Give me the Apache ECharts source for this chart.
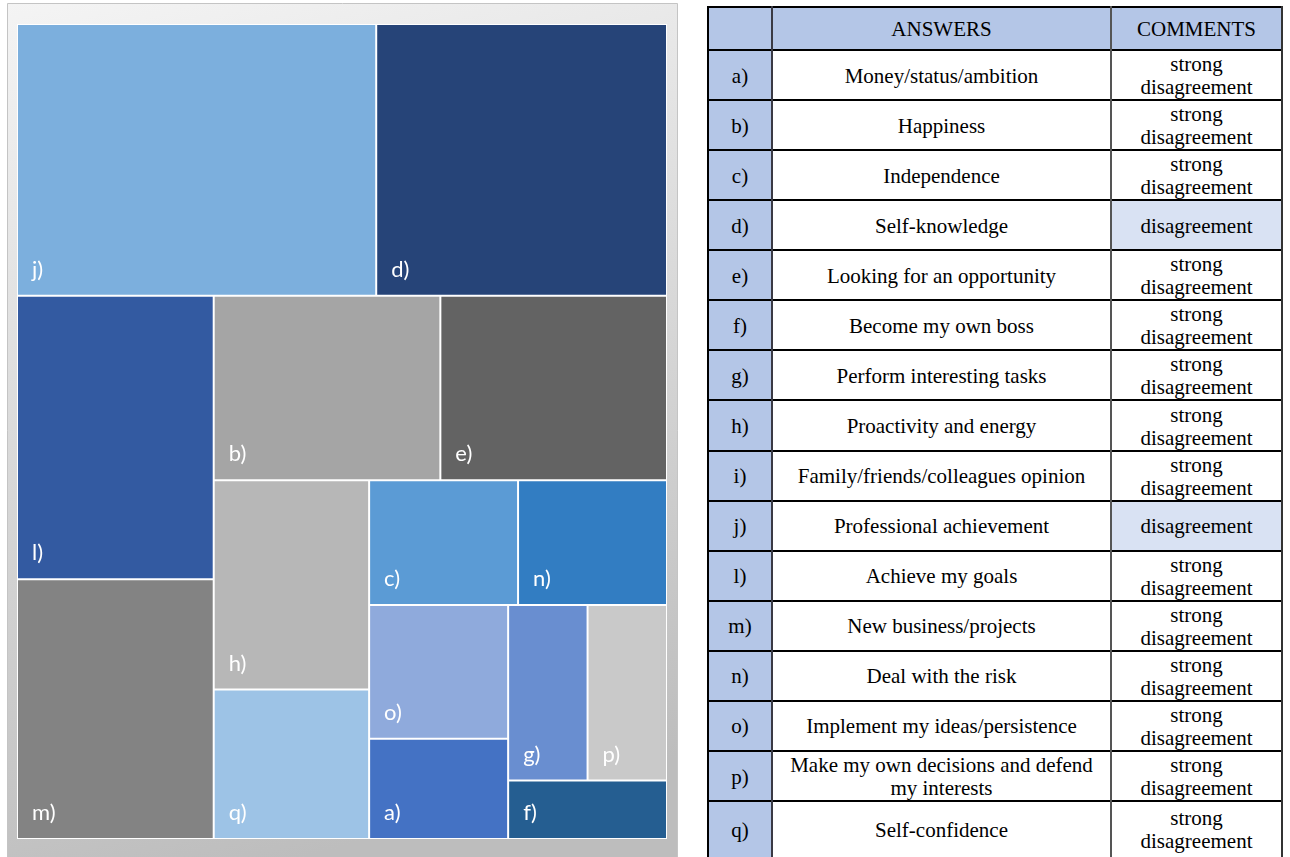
<!DOCTYPE html>
<html>
<head>
<meta charset="utf-8">
<script src="https://cdn.jsdelivr.net/npm/echarts@6/dist/echarts.min.js"></script>
<style>
  html, body { margin: 0; padding: 0; background: #fff; }
  body { width: 1290px; height: 857px; position: relative; overflow: hidden; }
  #chart { position: absolute; left: 0; top: 0; width: 690px; height: 857px; }
  #table { position: absolute; left: 0; top: 0; width: 1290px; height: 857px; }
  .cell {
    position: absolute;
    box-sizing: border-box;
    display: flex;
    align-items: center;
    justify-content: center;
    text-align: center;
    font-family: "Liberation Serif", "Times New Roman", serif;
    font-size: 21px;
    line-height: 23px;
    color: #000;
    padding-top: 2px;
  }
  .line { position: absolute; }
</style>
</head>
<body>
<div id="chart"></div>
<div id="table"></div>
<script>
// treemap data (Excel order, largest first)
const tileNames = ["j)", "d)", "l)", "m)", "b)", "e)", "h)", "q)", "c)", "n)", "o)", "a)", "g)", "p)", "f)"];
const tileValues = [21, 17, 12, 11, 9, 9, 7, 5, 4, 4, 4, 3, 3, 3, 2];
const tileColors = ["#7cafdd", "#264478", "#335aa1", "#838383", "#a5a5a5", "#636363", "#b7b7b7", "#9dc3e6",
                    "#5b9bd5", "#327dc2", "#8faadc", "#4472c4", "#698ed0", "#c9c9c9", "#255e91"];

// table on the right
const rowKeys = ["a)", "b)", "c)", "d)", "e)", "f)", "g)", "h)", "i)", "j)", "l)", "m)", "n)", "o)", "p)", "q)"];
const answers = [
  "Money/status/ambition", "Happiness", "Independence", "Self-knowledge",
  "Looking for an opportunity", "Become my own boss", "Perform interesting tasks",
  "Proactivity and energy", "Family/friends/colleagues opinion", "Professional achievement",
  "Achieve my goals", "New business/projects", "Deal with the risk",
  "Implement my ideas/persistence", "Make my own decisions and defend my interests", "Self-confidence"
];
const comments = [
  "strong disagreement", "strong disagreement", "strong disagreement", "disagreement",
  "strong disagreement", "strong disagreement", "strong disagreement", "strong disagreement",
  "strong disagreement", "disagreement", "strong disagreement", "strong disagreement",
  "strong disagreement", "strong disagreement", "strong disagreement", "strong disagreement"
];
const headers = ["", "ANSWERS", "COMMENTS"];

const chart = echarts.init(document.getElementById("chart"));

chart.setOption({
  animation: false,
  graphic: [
    {
      type: "rect",
      z: -10,
      shape: { x: 7.5, y: 3.5, width: 670, height: 870 },
      style: {
        fill: new echarts.graphic.LinearGradient(0, 0, 0.35, 1, [
          { offset: 0, color: "#f4f4f4" },
          { offset: 1, color: "#bdbdbd" }
        ]),
        stroke: "#c4c4c4",
        lineWidth: 1
      }
    }
  ],
  series: [
    {
      type: "treemap",
      left: 17,
      top: 24,
      width: 650,
      height: 815,
      roam: false,
      nodeClick: false,
      sort: false,
      // keeps echarts' squarify breaking rows the same way Excel did
      squareRatio: 1.1097,
      breadcrumb: { show: false },
      levels: [
        { itemStyle: { borderColor: "#fff", borderWidth: 1, gapWidth: 2 } },
        { itemStyle: { borderWidth: 0, gapWidth: 0 } }
      ],
      label: {
        show: true,
        position: "insideBottomLeft",
        distance: 9,
        color: "#fff",
        fontFamily: "Lato",
        fontSize: 22,
        formatter: "{b}"
      },
      data: tileNames.map((n, i) => ({
        name: n,
        value: tileValues[i],
        itemStyle: { color: tileColors[i] }
      }))
    }
  ]
});

// build the table
const tbl = document.getElementById("table");
const colX = [708, 772, 1111, 1282];
const headTop = 7, headBottom = 50, rowH = 50.07;
const blue = "#b4c6e7", lightBlue = "#d9e2f3";

function addCell(x0, x1, y0, y1, text, bg, pad) {
  const d = document.createElement("div");
  d.className = "cell";
  d.style.left = x0 + "px";
  d.style.top = y0 + "px";
  d.style.width = (x1 - x0) + "px";
  d.style.height = (y1 - y0) + "px";
  d.style.background = bg;
  d.style.paddingLeft = pad + "px";
  d.style.paddingRight = pad + "px";
  d.textContent = text;
  tbl.appendChild(d);
}
function addLine(x, y, w, h, color) {
  const d = document.createElement("div");
  d.className = "line";
  d.style.left = x + "px";
  d.style.top = y + "px";
  d.style.width = w + "px";
  d.style.height = h + "px";
  d.style.background = color;
  tbl.appendChild(d);
}

headers.forEach((h, c) => addCell(colX[c], colX[c + 1], headTop, headBottom, h, blue, 4));

const ys = [headBottom];
rowKeys.forEach((k, i) => {
  const y0 = headBottom + i * rowH;
  const y1 = i === rowKeys.length - 1 ? 857 : headBottom + (i + 1) * rowH;
  if (i < rowKeys.length - 1) ys.push(y1);
  addCell(colX[0], colX[1], y0, y1, k, blue, 2);
  addCell(colX[1], colX[2], y0, y1, answers[i], "#fff", 12);
  addCell(colX[2], colX[3], y0, y1, comments[i], comments[i] === "disagreement" ? lightBlue : "#fff", 4);
});

addLine(colX[0] - 1, headTop - 1, colX[3] - colX[0] + 2, 2, "#000");
ys.forEach(y => addLine(colX[0] - 1, y - 1, colX[3] - colX[0] + 2, 2, "#000"));
addLine(colX[0] - 1, headTop - 1, 2, 880, "#000");
addLine(colX[1] - 1, headTop - 1, 2, 880, "#3a3a44");
addLine(colX[2] - 1, headTop - 1, 1.5, 880, "#555");
addLine(colX[3] - 1, headTop - 1, 2, 880, "#333");

window.addEventListener("resize", () => chart.resize());
</script>
</body>
</html>
